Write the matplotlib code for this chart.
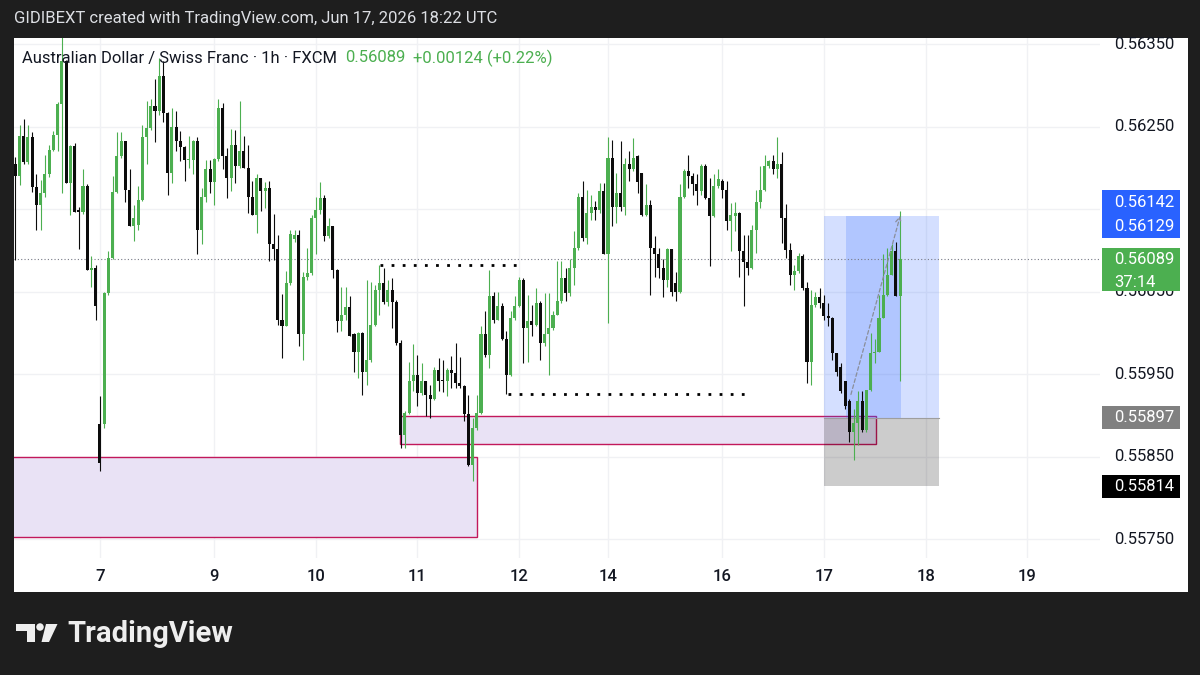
import matplotlib.pyplot as plt
import matplotlib.patches as mpatches
import numpy as np
import pandas as pd

plt.rcParams['font.family'] = ['Roboto', 'DejaVu Sans']

# hourly AUDCHF candles, prices in 1e-5 units (Fri Jun 5 01:00 -> Wed Jun 17 18:00)
open_ = [
    56205, 56190, 56239, 56207, 56237, 56177, 56155, 56169, 56193, 56222,
    56240, 56277, 56329, 56182, 56226, 56149, 56146, 56178, 56076, 56079,
    55889, 55889, 56048, 56091, 56171, 56214, 56232, 56173, 56129, 56131,
    56161, 56237, 56248, 56275, 56269, 56311, 56266, 56194, 56249, 56232,
    56225, 56209, 56210, 56232, 56125, 56164, 56198,
    56183, 56211, 56272, 56214, 56188, 56227, 56202, 56220, 56200, 56164,
    56143, 56187, 56172, 56175, 56107, 56101, 56015, 56008, 56060, 56114,
    56119, 55998, 56068, 56072,
    56139, 56149, 56163, 56117, 56129, 56076, 56014, 56021, 56031, 55998,
    55977, 56000, 55953, 55967, 56010, 56052, 56060, 56037, 56052,
    56037, 55988, 55876, 55903,
    55941, 55949, 55927, 55941, 55925, 55920, 55955, 55943, 55941, 55955,
    55951, 55939, 55936, 55901, 55840, 55885, 55903, 55998, 55973, 56044,
    56016, 56032, 55992, 55949, 56018,
    56032, 56064, 56006, 56014, 56010, 56036, 55988, 55998, 56006, 56022,
    56038, 56066, 56048, 56079, 56103, 56165, 56115, 56145, 56153, 56149,
    56172,
    56095, 56212, 56153, 56169, 56153, 56205, 56198, 56214, 56194, 56143,
    56155, 56103, 56095, 56079, 56064, 56101, 56060, 56050, 56164, 56196,
    56190, 56180, 56172, 56202, 56163, 56141, 56178,
    56184, 56173, 56135, 56141, 56145, 56099, 56086, 56078, 56125, 56159,
    56173, 56202, 56208, 56199, 56205, 56139, 56100, 56070, 56075, 56093,
    56054, 55965, 56034, 56043,
    56036, 56020, 56018, 55975, 55959, 55941, 55917, 55880, 55891, 55917,
    55882, 55931, 55975, 55977, 56018, 56046, 56070, 56099, 56044,
]
high = [
    56213, 56252, 56259, 56252, 56243, 56193, 56185, 56215, 56228, 56244,
    56280, 56362, 56331, 56228, 56230, 56153, 56198, 56180, 56093, 56082,
    55923, 56049, 56099, 56190, 56243, 56243, 56233, 56198, 56155, 56178,
    56252, 56281, 56283, 56307, 56333, 56329, 56267, 56273, 56269, 56244,
    56226, 56238, 56234, 56237, 56175, 56210, 56210,
    56212, 56283, 56279, 56224, 56247, 56246, 56281, 56239, 56227, 56184,
    56192, 56187, 56183, 56184, 56144, 56119, 56047, 56075, 56124, 56124,
    56125, 56074, 56103, 56143,
    56165, 56183, 56167, 56139, 56130, 56077, 56056, 56056, 56044, 56000,
    56001, 56001, 56064, 56062, 56058, 56082, 56078, 56064, 56066, 56040,
    55991, 55905, 55965, 55986,
    55973, 55963, 55942, 55937, 55959, 55969, 55967, 55957, 55972, 55988,
    55971, 55937, 55925, 55897, 55925, 56008, 56026, 56076, 56050, 56050,
    56036, 56002, 56026, 56044, 56068,
    56066, 56046, 56034, 56054, 56038, 56048, 56048, 56026, 56087, 56087,
    56078, 56089, 56123, 56169, 56184, 56173, 56167, 56160, 56182, 56182,
    56237,
    56234, 56194, 56232, 56212, 56220, 56236, 56216, 56194, 56180, 56161,
    56117, 56103, 56090, 56103, 56102, 56074, 56180, 56198, 56216, 56194,
    56192, 56204, 56204, 56188, 56192, 56198, 56186,
    56184, 56157, 56158, 56146, 56118, 56119, 56131, 56173, 56202, 56216,
    56210, 56215, 56237, 56219, 56156, 56109, 56082, 56097, 56095, 56062,
    56052, 56050, 56054, 56046,
    56036, 56019, 55976, 55963, 55942, 55920, 55907, 55929, 55929, 55931,
    56000, 55992, 56046, 56095, 56103, 56107, 56110, 56147,
]
low = [
    56088, 56179, 56205, 56205, 56171, 56125, 56125, 56165, 56189, 56220,
    56220, 56169, 56181, 56143, 56146, 56102, 56144, 56076, 56056, 56016,
    55832, 55885, 56046, 56090, 56170, 56212, 56159, 56129, 56111, 56125,
    56160, 56204, 56246, 56231, 56264, 56256, 56167, 56182, 56220, 56208,
    56184, 56200, 56192, 56095, 56107, 56159, 56169,
    56155, 56208, 56198, 56163, 56172, 56182, 56200, 56200, 56145, 56143,
    56121, 56147, 56151, 56087, 56088, 56010, 55970, 56008, 56058, 56110,
    55984, 55967, 56064, 56070,
    56095, 56144, 56111, 56115, 56066, 56001, 56002, 56015, 55996, 55953,
    55945, 55925, 55937, 55965, 56008, 56022, 56035, 56032, 56006, 55985,
    55860, 55860, 55902, 55929,
    55911, 55925, 55899, 55897, 55918, 55929, 55928, 55923, 55933, 55933,
    55933, 55893, 55838, 55820, 55882, 55901, 55971, 55957, 56012, 56015,
    55991, 55926, 55948, 56015, 56031,
    55963, 55965, 55996, 56008, 55967, 55984, 55949, 56003, 56022, 56036,
    56038, 56045, 56058, 56100, 56111, 56107, 56137, 56137, 56145, 56095,
    56012,
    56129, 56133, 56147, 56143, 56184, 56196, 56169, 56141, 56141, 56046,
    56067, 56066, 56043, 56056, 56044, 56038, 56048, 56163, 56175, 56167,
    56155, 56167, 56162, 56081, 56140, 56175, 56163,
    56124, 56099, 56123, 56067, 56032, 56070, 56077, 56097, 56151, 56172,
    56200, 56192, 56188, 56109, 56091, 56058, 56052, 56073, 56052, 55939,
    55937, 56031, 56030, 56015,
    56008, 55967, 55947, 55927, 55908, 55868, 55846, 55864, 55880, 55880,
    55929, 55963, 55977, 56018, 56045, 56070, 56044, 55941,
]
close = [
    56190, 56239, 56207, 56237, 56177, 56155, 56169, 56193, 56222, 56240,
    56277, 56329, 56182, 56226, 56146, 56146, 56178, 56076, 56079, 56032,
    55842, 56048, 56091, 56171, 56214, 56232, 56173, 56129, 56139, 56161,
    56237, 56248, 56275, 56269, 56311, 56266, 56194, 56249, 56232, 56225,
    56209, 56210, 56232, 56125, 56164, 56198, 56183,
    56211, 56272, 56214, 56188, 56227, 56202, 56220, 56200, 56164, 56143,
    56187, 56172, 56175, 56107, 56101, 56015, 56008, 56060, 56120, 56119,
    55998, 56068, 56072, 56139,
    56149, 56163, 56117, 56129, 56076, 56014, 56021, 56031, 55996, 55977,
    56000, 55953, 55967, 56010, 56052, 56060, 56037, 56052, 56037, 55988,
    55876, 55903, 55941, 55949,
    55927, 55941, 55925, 55920, 55955, 55941, 55941, 55955, 55951, 55939,
    55936, 55901, 55840, 55885, 55903, 55998, 55973, 56044, 56016, 56032,
    55992, 55949, 56018, 56032, 56064,
    56006, 56014, 56010, 56036, 55988, 55998, 56006, 56022, 56038, 56066,
    56048, 56079, 56103, 56165, 56115, 56145, 56153, 56149, 56172, 56095,
    56212,
    56153, 56169, 56153, 56205, 56198, 56212, 56183, 56143, 56155, 56103,
    56095, 56079, 56064, 56101, 56050, 56050, 56164, 56196, 56190, 56180,
    56172, 56202, 56163, 56141, 56178, 56186, 56173,
    56135, 56143, 56145, 56099, 56086, 56078, 56125, 56159, 56173, 56202,
    56208, 56199, 56205, 56139, 56100, 56070, 56075, 56093, 56054, 55965,
    56034, 56043, 56036, 56020,
    56018, 55975, 55953, 55929, 55911, 55880, 55891, 55917, 55882, 55931,
    55975, 55977, 56018, 56046, 56070, 56099, 56044, 56089,
]

tick_days = [7, 9, 10, 11, 12, 14, 16, 17, 18, 19]
price_ticks = [0.5575, 0.5585, 0.5595, 0.5605, 0.5615, 0.5625, 0.5635]
hidden_ticks = [0.5615]  # fully covered by the target tag

# drawings (time as bar index, price)
zone1 = (-5, 109.06, 0.55752, 0.55850)
zone2 = (90.9, 203.3, 0.55865, 0.55899)
level_hi = (86.1, 120.1, 0.56082)
level_lo = (116.3, 173.5, 0.55926)
pos_x = (191.0, 218.2)
pos_fill_x = (196.2, 209.2)
entry, target, stop = 0.55897, 0.56142, 0.55814
target_hi = 0.56129
timer = '37:14'

o = np.array(open_) / 1e5
h = np.array(high) / 1e5
l = np.array(low) / 1e5
c = np.array(close) / 1e5

# bar index timeline (forex session: closed Fri 21:00 -> Sun 21:00)
times = pd.date_range('2026-06-05 01:00', '2026-06-20 23:00', freq='h')
wd = times.dayofweek
shut = ((wd == 4) & (times.hour >= 21)) | (wd == 5) | ((wd == 6) & (times.hour < 21))
times = times[~shut]
tick_pos = [int(np.argmax(times.day == d)) for d in tick_days]

W, H = 1200, 675
def fx(px):
    return px / W
def fy(py):
    return 1 - py / H

GREEN = '#4caf50'
BLACK = '#0c0c0c'
TXT = '#131722'
FS = 12

fig = plt.figure(figsize=(12, 6.75), dpi=100, facecolor='#1e1e1e')
fig.patches.append(mpatches.Rectangle((fx(14), fy(592)), fx(1188 - 14), (592 - 38) / H,
                                      transform=fig.transFigure, facecolor='white',
                                      edgecolor='none', zorder=-1))

ax = fig.add_axes([fx(14), fy(558), fx(1100 - 14), (558 - 38) / H])
ax2 = fig.add_axes([fx(1100), fy(558), fx(88), (558 - 38) / H])
ymin, ymax = 0.557270, 0.563573
for a in (ax, ax2):
    a.set_ylim(ymin, ymax)
    for s in a.spines.values():
        s.set_visible(False)
ax.set_xlim(-0.3, 256.2)
ax2.set_xlim(0, 1)
ax2.set_xticks([])
ax2.set_yticks([])
ax2.set_facecolor('white')
ppx = (ymax - ymin) / 520.0  # price per pixel

# grid
ax.set_yticks(price_ticks)
ax.set_yticklabels([])
ax.tick_params(axis='y', length=0)
ax.set_xticks(tick_pos)
ax.set_xticklabels([str(d) for d in tick_days], fontsize=FS, color=TXT, fontweight='medium')
ax.tick_params(axis='x', length=0, pad=8)
ax.grid(True, color='#f0f1f4', lw=1)
ax.set_axisbelow(True)

# zones
for x0, x1, y0, y1 in (zone1, zone2):
    ax.add_patch(mpatches.Rectangle((x0, y0), x1 - x0, y1 - y0, facecolor='#e9e2f5',
                                    edgecolor='#c2185b', lw=1, zorder=1))

# position tool
ax.add_patch(mpatches.Rectangle((pos_x[0], entry), pos_x[1] - pos_x[0], target - entry,
                                facecolor='#2962ff', alpha=0.2, lw=0, zorder=1.2))
ax.add_patch(mpatches.Rectangle((pos_fill_x[0], entry), pos_fill_x[1] - pos_fill_x[0], target - entry,
                                facecolor='#2962ff', alpha=0.2, lw=0, zorder=1.3))
ax.add_patch(mpatches.Rectangle((pos_x[0], stop), pos_x[1] - pos_x[0], entry - stop,
                                facecolor='black', alpha=0.2, lw=0, zorder=1.2))
ax.plot(pos_x, [entry, entry], color='#9e9e9e', lw=0.8, zorder=1.4)

# level lines
for x0, x1, y in (level_hi, level_lo):
    ax.plot([x0, x1], [y, y], color='black', lw=2, linestyle=(0, (1, 3)),
            dash_capstyle='butt', zorder=2)

# last price line
ax.axhline(c[-1], color='#787b86', lw=0.8, linestyle=(0, (1, 2)), zorder=1.5)

# candles
x = np.arange(len(c))
col = np.where(c >= o, GREEN, BLACK)
ax.vlines(x, l, h, colors=col, lw=0.8, zorder=3)
ax.bar(x, np.maximum(np.abs(c - o), ppx), bottom=np.minimum(o, c), width=0.72,
       color=col, lw=0, zorder=4)

# projection arrow
ax.annotate('', xy=(209.2, 0.56145), xytext=(197.2, 0.55922),
            arrowprops=dict(arrowstyle='->', color='#8a8e99', lw=0.9, linestyle=(0, (3, 2)),
                            mutation_scale=10), zorder=5)

# price scale
green_top = c[-1] + 11.5 * ppx
green_bot = c[-1] - 31.5 * ppx
for p in price_ticks:
    if p in hidden_ticks:
        continue
    t = ax2.text(0.16, p, f'{p:.5f}', fontsize=FS, color=TXT, va='center', ha='left', zorder=2)
    if abs(p - c[-1]) < 40 * ppx:
        # only the part below the last-price tag shows
        clip = mpatches.Rectangle((0, ymin), 1, green_bot - ymin, transform=ax2.transData)
        t.set_clip_path(clip)

def tag(y_lo, y_hi, color):
    ax2.add_patch(mpatches.Rectangle((0.023, y_lo), 0.886, y_hi - y_lo, facecolor=color,
                                     lw=0, zorder=4))

tag(target_hi - 12 * ppx, target_hi + 36 * ppx, '#2962ff')
ax2.text(0.16, target_hi + 23.5 * ppx, f'{target:.5f}', fontsize=FS, color='white', va='center', zorder=5)
ax2.text(0.16, target_hi, f'{target_hi:.5f}', fontsize=FS, color='white', va='center', zorder=5)
tag(green_bot, green_top, GREEN)
ax2.text(0.16, c[-1], f'{c[-1]:.5f}', fontsize=FS, color='white', va='center', zorder=5)
ax2.text(0.16, c[-1] - 23 * ppx, timer, fontsize=FS, color='white', va='center', zorder=5)
tag(entry - 11.5 * ppx, entry + 11.5 * ppx, '#808080')
ax2.text(0.16, entry, f'{entry:.5f}', fontsize=FS, color='white', va='center', zorder=5)
tag(stop - 11.5 * ppx, stop + 11.5 * ppx, '#000000')
ax2.text(0.16, stop, f'{stop:.5f}', fontsize=FS, color='white', va='center', zorder=5)

# header and legend
fig.text(fx(14), fy(19), 'GIDIBEXT created with TradingView.com, Jun 17, 2026 18:22 UTC',
         color='#dcdee3', fontsize=12, va='center')
fig.text(fx(22), fy(58), 'Australian Dollar / Swiss Franc · 1h · FXCM', color=TXT,
         fontsize=FS, va='center')
fig.text(fx(345), fy(58), f'{c[-1]:.5f}', color=GREEN, fontsize=FS, va='center')
fig.text(fx(413), fy(58), '+0.00124 (+0.22%)', color=GREEN, fontsize=FS, va='center')

# TradingView logo
logo = [
    [(16, 624), (35, 624), (35, 642), (27, 642), (27, 630.5), (16, 630.5)],
    [(46, 624), (57.5, 624), (49, 642), (41.5, 642)],
]
for poly in logo:
    fig.patches.append(mpatches.Polygon([(fx(a), fy(b)) for a, b in poly], closed=True,
                                        transform=fig.transFigure, facecolor='#eeeeee', lw=0))
fig.patches.append(mpatches.Ellipse((fx(40), fy(627)), 7.5 / W, 7.5 / H, transform=fig.transFigure,
                                    facecolor='#eeeeee', lw=0))
fig.text(fx(67), fy(634), 'TradingView', color='#eeeeee', fontsize=21, fontweight='bold', va='center')

fig.savefig('out.png', dpi=100, facecolor=fig.get_facecolor())
